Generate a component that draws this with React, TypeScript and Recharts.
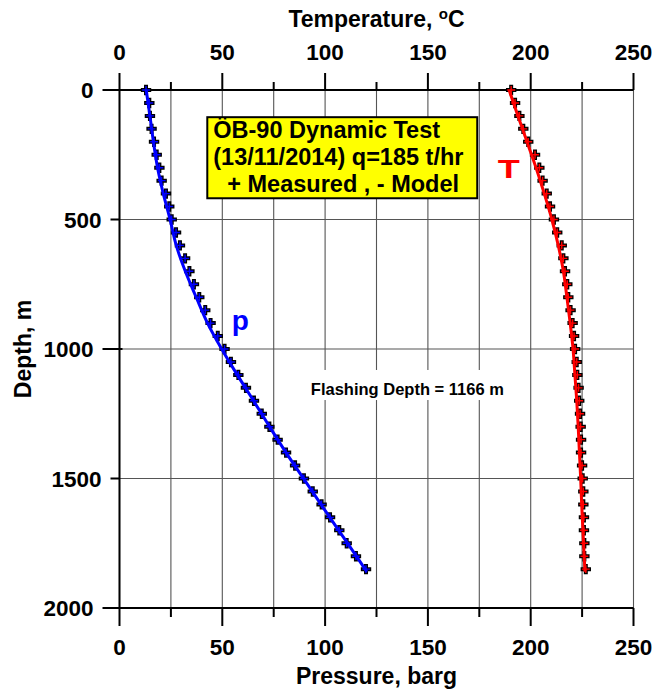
import {
  ComposedChart,
  Scatter,
  XAxis,
  YAxis,
  CartesianGrid,
  ReferenceArea,
  ReferenceDot,
} from "recharts";

// === measured data (every 50 m) ===
const measuredDepth = [
  0, 50, 100, 150, 200, 250, 300, 350, 400, 450, 500, 550, 600, 650, 700, 750,
  800, 850, 900, 950, 1000, 1050, 1100, 1150, 1200, 1250, 1300, 1350, 1400,
  1450, 1500, 1550, 1600, 1650, 1700, 1750, 1800, 1850,
];
const measuredPressure = [
  12.9, 14.5, 14.8, 15.6, 16.8, 18.1, 19.4, 20.5, 22.6, 24.2, 25.4, 27.5, 29.4,
  31.9, 34.0, 36.2, 38.8, 41.7, 44.3, 47.8, 51.1, 54.2, 57.8, 61.5, 65.4, 69.2,
  72.9, 76.9, 81.0, 85.4, 89.7, 94.0, 98.3, 102.4, 106.9, 110.5, 115.0, 119.9,
];
const measuredTemperature = [
  190.5, 192.4, 194.5, 196.4, 198.8, 202.1, 204.2, 205.8, 207.8, 209.4, 211.3,
  212.9, 215.1, 215.9, 216.7, 217.8, 218.3, 219.4, 220.4, 221.1, 221.6, 222.4,
  222.7, 223.3, 223.6, 224.0, 224.3, 224.5, 224.5, 225.0, 225.3, 225.6, 225.6,
  225.9, 225.9, 226.1, 226.1, 226.8,
];

// === model curves ===
const modelDepth = [
  0, 100, 200, 300, 400, 500, 600, 700, 800, 900, 1000, 1100, 1200, 1300, 1400,
  1500, 1600, 1700, 1800, 1860,
];
const modelPressure = [
  13.0, 14.8, 16.5, 18.5, 21.3, 24.6, 27.6, 32.0, 37.3, 42.8, 49.7, 57.3, 65.2,
  73.0, 81.0, 89.5, 98.0, 106.6, 115.2, 120.3,
];
const modelTemperature = [
  189.5, 193.8, 198.2, 202.6, 206.6, 210.3, 213.4, 215.9, 217.6, 219.2, 220.6,
  221.5, 222.4, 223.1, 223.7, 224.3, 224.8, 225.4, 226.0, 226.4,
];

// === axes ===
const valueTicks = [0, 25, 50, 75, 100, 125, 150, 175, 200, 225, 250];
const depthTicks = [0, 500, 1000, 1500, 2000];

const FONT = "'Liberation Sans', Arial, Helvetica, sans-serif";

const toRows = (xs: number[], depths: number[]) =>
  xs.map((x, i) => ({ x, depth: depths[i] }));

const pMeasured = toRows(measuredPressure, measuredDepth);
const tMeasured = toRows(measuredTemperature, measuredDepth);
const pModel = toRows(modelPressure, modelDepth);
const tModel = toRows(modelTemperature, modelDepth);

const makeCross = (color: string) => (props: any) => {
  const { cx, cy } = props;
  const s = 5.2;
  return (
    <g>
      <path
        d={`M${cx - s},${cy}H${cx + s}M${cx},${cy - s}V${cy + s}`}
        stroke="#000"
        strokeWidth={4}
      />
      <path
        d={`M${cx - s + 1.3},${cy}H${cx + s - 1.3}M${cx},${cy - s + 1.3}V${cy + s - 1.3}`}
        stroke={color}
        strokeWidth={1.4}
      />
    </g>
  );
};

const TopTick = (props: any) => {
  const { x, y, payload } = props;
  const major = payload.value % 50 === 0;
  return (
    <g>
      <line x1={x} x2={x} y1={y} y2={y - (major ? 17 : 8)} stroke="#000" strokeWidth={2} />
      {major && (
        <text x={x} y={y - 30} textAnchor="middle" fontSize={22.5} fontWeight="bold" fontFamily={FONT} fill="#000">
          {payload.value}
        </text>
      )}
    </g>
  );
};

const BottomTick = (props: any) => {
  const { x, y, payload } = props;
  const major = payload.value % 50 === 0;
  return (
    <g>
      <line x1={x} x2={x} y1={y} y2={y + (major ? 18 : 9)} stroke="#000" strokeWidth={2} />
      {major && (
        <text x={x} y={y + 47} textAnchor="middle" fontSize={22.5} fontWeight="bold" fontFamily={FONT} fill="#000">
          {payload.value}
        </text>
      )}
    </g>
  );
};

const LeftTick = (props: any) => {
  const { x, y, payload } = props;
  const major = payload.value % 1000 === 0;
  const len = major ? 17 : 9;
  return (
    <g>
      <line x1={x - len} x2={x + (major ? 3 : 0)} y1={y} y2={y} stroke="#000" strokeWidth={2} />
      <text x={x - len - 9} y={y + 8} textAnchor="end" fontSize={22.5} fontWeight="bold" fontFamily={FONT} fill="#000">
        {payload.value}
      </text>
    </g>
  );
};

const legendBox = (props: any) => {
  const { x, y, width, height } = props;
  const t = { fontSize: 23.5, fontWeight: "bold" as const, fontFamily: FONT, fill: "#000" };
  return (
    <g>
      <rect x={x} y={y} width={width} height={height} fill="#ffff00" stroke="#000" strokeWidth={2} />
      <text x={x + 6} y={y + 21} {...t}>ÖB-90 Dynamic Test</text>
      <text x={x + 6} y={y + 48} {...t}>(13/11/2014) q=185 t/hr</text>
      <text x={x + 20} y={y + 75} {...t}>+ Measured , - Model</text>
    </g>
  );
};

const flashingNote = (props: any) => {
  const { x, y, width, height } = props;
  return (
    <g>
      <rect x={x} y={y} width={width} height={height} fill="#fff" />
      <text x={x + width / 2} y={y + 25} textAnchor="middle" fontSize={16.5} fontWeight="bold" fontFamily={FONT} fill="#000">
        Flashing Depth = 1166 m
      </text>
    </g>
  );
};

export default function App() {
  return (
    <div style={{ width: 655, height: 691 }}>
      <style>{`html, body { margin: 0; padding: 0; overflow: hidden; }`}</style>
      <ComposedChart
        width={655}
        height={691}
        margin={{ top: 30, right: 21.5, bottom: 23, left: 19.5 }}
        style={{ fontFamily: FONT }}
      >
        <CartesianGrid xAxisId="p" stroke="#555" strokeWidth={1.1} />
        <XAxis
          xAxisId="t"
          orientation="top"
          type="number"
          dataKey="x"
          domain={[0, 250]}
          ticks={valueTicks}
          interval={0}
          height={60}
          tickSize={0}
          tickMargin={0}
          tickLine={false}
          axisLine={{ stroke: "#000", strokeWidth: 2 }}
          tick={<TopTick />}
        />
        <XAxis
          xAxisId="p"
          orientation="bottom"
          type="number"
          dataKey="x"
          domain={[0, 250]}
          ticks={valueTicks}
          interval={0}
          height={60}
          tickSize={0}
          tickMargin={0}
          tickLine={false}
          axisLine={{ stroke: "#000", strokeWidth: 2 }}
          tick={<BottomTick />}
        />
        <YAxis
          type="number"
          dataKey="depth"
          domain={[0, 2000]}
          reversed
          ticks={depthTicks}
          interval={0}
          width={100}
          tickSize={0}
          tickMargin={0}
          tickLine={false}
          axisLine={{ stroke: "#000", strokeWidth: 2 }}
          tick={<LeftTick />}
        />

        <ReferenceArea xAxisId="p" x1={42.7} x2={174} y1={105} y2={418} shape={legendBox} ifOverflow="visible" />
        <ReferenceArea xAxisId="p" x1={88} x2={192} y1={1081} y2={1197} shape={flashingNote} ifOverflow="visible" />

        <Scatter
          xAxisId="p"
          data={pMeasured}
          fill="#0000ff"
          shape={makeCross("#0000ff")}
          isAnimationActive={false}
        />
        <Scatter
          xAxisId="t"
          data={tMeasured}
          fill="#ff0000"
          shape={makeCross("#ff0000")}
          isAnimationActive={false}
        />
        <Scatter
          xAxisId="p"
          data={pModel}
          fill="#0000ff"
          line={{ stroke: "#0000ff", strokeWidth: 3 }}
          lineJointType="monotoneY"
          shape={() => <g />}
          isAnimationActive={false}
        />
        <Scatter
          xAxisId="t"
          data={tModel}
          fill="#ff0000"
          line={{ stroke: "#ff0000", strokeWidth: 3 }}
          lineJointType="monotoneY"
          shape={() => <g />}
          isAnimationActive={false}
        />

        <ReferenceDot
          xAxisId="p"
          x={54.6}
          y={927}
          ifOverflow="visible"
          shape={(p: any) => (
            <text x={p.cx} y={p.cy} fontSize={28} fontWeight="bold" fontFamily={FONT} fill="#0000ff">
              p
            </text>
          )}
        />
        <ReferenceDot
          xAxisId="t"
          x={184}
          y={340}
          ifOverflow="visible"
          shape={(p: any) => (
            <text
              x={p.cx}
              y={p.cy}
              fontSize={25}
              fontWeight="bold"
              fontFamily={FONT}
              fill="#ff0000"
              textLength={22}
              lengthAdjust="spacingAndGlyphs"
            >
              T
            </text>
          )}
        />

        <text x={376.5} y={27} textAnchor="middle" fontSize={23} fontWeight="bold" fontFamily={FONT} fill="#000">
          Temperature, <tspan fontSize={15} dy={-8}>o</tspan>
          <tspan dy={8}>C</tspan>
        </text>
        <text x={376.5} y={684} textAnchor="middle" fontSize={23} fontWeight="bold" fontFamily={FONT} fill="#000">
          Pressure, barg
        </text>
        <text
          x={31}
          y={349}
          transform="rotate(-90 31 349)"
          textAnchor="middle"
          fontSize={23}
          fontWeight="bold"
          fontFamily={FONT}
          fill="#000"
        >
          Depth, m
        </text>
      </ComposedChart>
    </div>
  );
}
